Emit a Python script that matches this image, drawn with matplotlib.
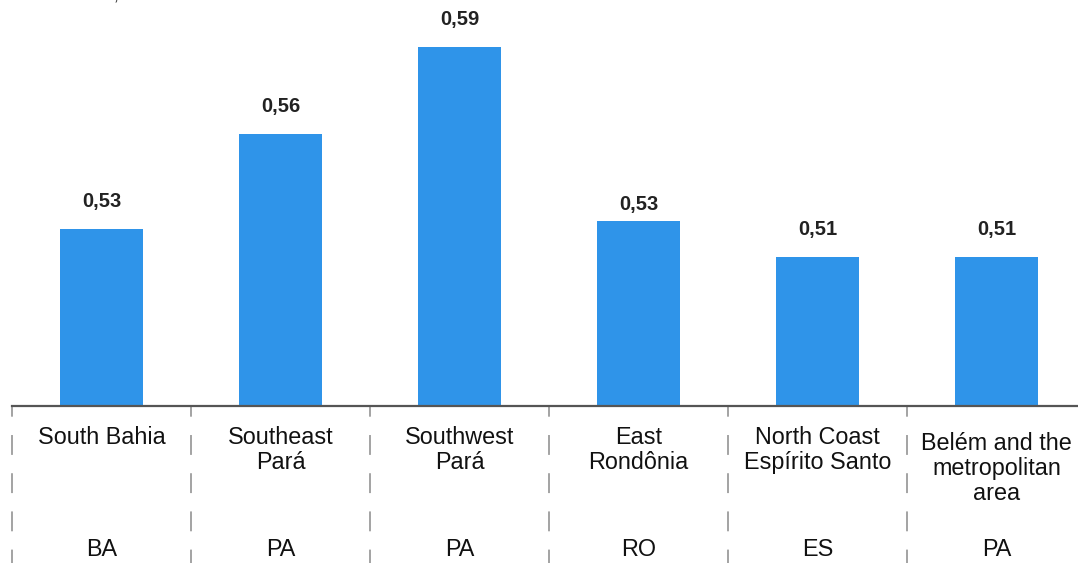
import matplotlib.pyplot as plt

# data
regions = ["South Bahia", "Southeast\nPará", "Southwest\nPará", "East\nRondônia",
           "North Coast\nEspírito Santo", "Belém and the\nmetropolitan\narea"]
states = ["BA", "PA", "PA", "RO", "ES", "PA"]
values = [0.519, 0.556, 0.590, 0.522, 0.508, 0.508]
value_labels = ["0,53", "0,56", "0,59", "0,53", "0,51", "0,51"]

plt.rcParams['font.family'] = ['Liberation Sans', 'DejaVu Sans']

W, H = 1078, 563
fig = plt.figure(figsize=(W / 100, H / 100), dpi=100)
# axes: left edge at x=12px, baseline at y=406px, top at figure top
ax = fig.add_axes([12 / W, (H - 406) / H, (W - 12) / W, 406 / H])

band = 179.0  # px per category
x = list(range(len(regions)))
ax.bar(x, [v - 0.45 for v in values], bottom=0.45, width=83 / band,
       color="#2f94e9", zorder=2)

ax.set_xlim(-0.5, -0.5 + (W - 12) / band)
ax.set_ylim(0.45, 0.45 + 406 / 2564)

for i, (v, lab) in enumerate(zip(values, value_labels)):
    off = 5 if i == 3 else 13  # East Rondônia label sits closer in the original
    ax.annotate(lab, (i, v), xytext=(0, off), textcoords="offset points",
                ha="center", va="bottom", fontsize=14.5, fontweight="bold",
                color="#222222")

for s in ["top", "right", "left"]:
    ax.spines[s].set_visible(False)
ax.spines["bottom"].set_color("#555555")
ax.spines["bottom"].set_linewidth(1.6)
ax.set_xticks([])
ax.set_yticks([])

# dashed separators below the axis
trans = ax.get_xaxis_transform()
for i in range(len(regions)):
    ax.plot([i - 0.5, i - 0.5], [0, -160 / 406], transform=trans, clip_on=False,
            color="#8a8a8a", lw=1.1, linestyle=(6, (13, 12)))

for i, (r, st) in enumerate(zip(regions, states)):
    top = -26 / 406 if r.count("\n") == 2 else -20 / 406
    ax.text(i, top, r, transform=trans, ha="center", va="top",
            fontsize=16.8, color="#111111", linespacing=1.12)
    ax.text(i, -143 / 406, st, transform=trans, ha="center", va="center",
            fontsize=16.8, color="#111111")

# title mostly cut off at the top of the picture
fig.text(-23 / W, 1.0, "Gini coefficient, in 2010", ha="left",
         va="baseline", fontsize=15, color="#444444")

fig.savefig("out.png", dpi=100)
